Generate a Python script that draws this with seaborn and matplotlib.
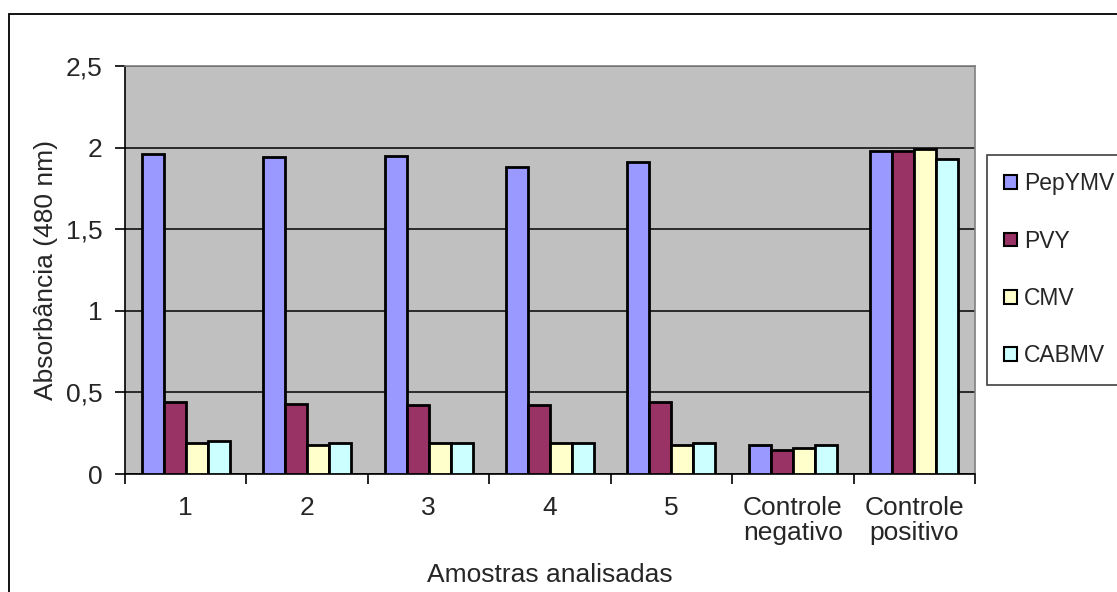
import matplotlib
matplotlib.use("Agg")
import matplotlib.pyplot as plt
from matplotlib.patches import Patch, Rectangle
from matplotlib.ticker import FixedLocator, FuncFormatter
import seaborn as sns
import pandas as pd

# Sample groups and the antisera tested against them
amostras = ["1", "2", "3", "4", "5", "Controle\nnegativo", "Controle\npositivo"]
virus = ["PepYMV", "PVY", "CMV", "CABMV"]

# Absorbance readings (480 nm) per sample, one list per virus
pepymv = [1.96, 1.94, 1.95, 1.88, 1.91, 0.18, 1.98]
pvy = [0.44, 0.43, 0.42, 0.42, 0.44, 0.15, 1.98]
cmv = [0.19, 0.18, 0.19, 0.19, 0.18, 0.16, 1.99]
cabmv = [0.20, 0.19, 0.19, 0.19, 0.19, 0.18, 1.93]

cores = {"PepYMV": "#9999FF", "PVY": "#993366", "CMV": "#FFFFCC", "CABMV": "#CCFFFF"}

df = pd.DataFrame({
    "amostra": amostras * 4,
    "virus": [v for v in virus for _ in amostras],
    "absorbancia": pepymv + pvy + cmv + cabmv,
})

sns.set_style("white")
plt.rcParams["font.family"] = ["Liberation Sans", "DejaVu Sans"]

fig = plt.figure(figsize=(11.17, 5.92), dpi=100)
ax = fig.add_axes([0.1119, 0.1993, 0.8729 - 0.1119, 0.8885 - 0.1993])

sns.barplot(data=df, x="amostra", y="absorbancia", hue="virus",
            order=amostras, hue_order=virus, palette=cores, saturation=1,
            width=0.725, edgecolor="black", linewidth=2.0,
            errorbar=None, ax=ax, zorder=3)

ax.set_facecolor("#C0C0C0")
ax.set_ylim(0, 2.5)
ax.set_xlim(-0.5, len(amostras) - 0.5)
ax.set_yticks([0, 0.5, 1, 1.5, 2, 2.5])
ax.yaxis.set_major_formatter(FuncFormatter(lambda v, p: f"{v:g}".replace(".", ",")))
ax.grid(axis="y", color="#2a2a2a", linewidth=1.4, zorder=1)
ax.grid(axis="x", visible=False)
ax.set_axisbelow(True)

for lado in ("top", "right"):
    ax.spines[lado].set_color("#808080")
    ax.spines[lado].set_linewidth(1.2)
for lado in ("left", "bottom"):
    ax.spines[lado].set_color("black")
    ax.spines[lado].set_linewidth(1.2)

# category boundaries carry the tick marks, labels sit centred without ticks
ax.xaxis.set_minor_locator(FixedLocator([i + 0.5 for i in range(-1, len(amostras))]))
ax.tick_params(axis="x", which="minor", length=7, width=1.2, color="black", direction="out", bottom=True)
ax.tick_params(axis="x", which="major", length=0, pad=16, labelsize=19)
ax.tick_params(axis="y", which="major", length=7, width=1.2, color="black", direction="out",
               left=True, pad=9, labelsize=19)
for t in ax.get_xticklabels():
    t.set_linespacing(1.05)

ax.set_xlabel("Amostras analisadas", fontsize=19, labelpad=13)
ax.set_ylabel("Absorbância (480 nm)", fontsize=19, labelpad=6)

ax.get_legend().remove()
alcas = [Patch(facecolor=cores[v], edgecolor="black", linewidth=1.5) for v in virus]
leg = fig.legend(alcas, virus, loc="upper left", bbox_to_anchor=(0.8836, 0.738),
                 fontsize=16.5, frameon=True, fancybox=False, framealpha=1,
                 edgecolor="#404040", handlelength=0.55, handleheight=0.55,
                 handletextpad=0.3, labelspacing=1.5, borderpad=0.75,
                 borderaxespad=0)
leg.get_frame().set_linewidth(1.2)

# chart border around the whole drawing
fig.patches.append(Rectangle((9.5 / 1117, -0.2), 1.2, 1.2 - 14 / 592, transform=fig.transFigure,
                             fill=False, edgecolor="black", linewidth=1.3, zorder=0))

fig.savefig("out.png", dpi=100)
